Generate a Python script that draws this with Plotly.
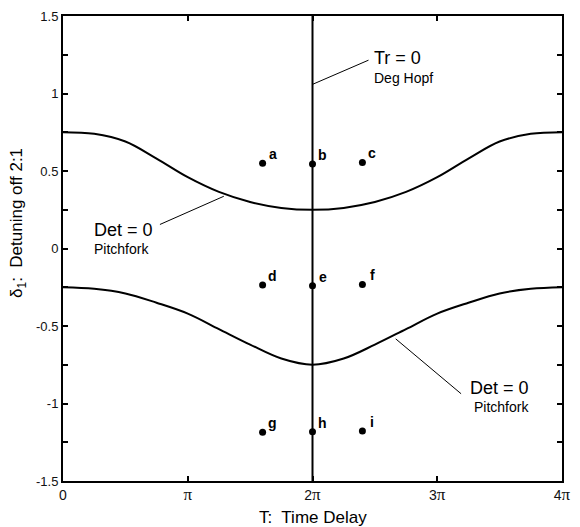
import numpy as np
import plotly.graph_objects as go

PI = np.pi

# Curve samples (x in units of pi)
curve_x = [0, 0.25, 0.5, 0.75, 1.0, 1.25, 1.5, 1.75, 2.0,
           2.25, 2.5, 2.75, 3.0, 3.25, 3.5, 3.75, 4.0]
upper_y = [0.75, 0.74, 0.69, 0.58, 0.46, 0.365, 0.30, 0.262, 0.25,
           0.262, 0.30, 0.365, 0.46, 0.58, 0.69, 0.74, 0.75]
lower_y = [-0.25, -0.26, -0.29, -0.35, -0.42, -0.52, -0.62, -0.71, -0.75,
           -0.71, -0.62, -0.52, -0.42, -0.35, -0.29, -0.26, -0.25]

# Degenerate Hopf line T = 2 pi
hopf_x = [2.0, 2.0]
hopf_y = [-1.5, 1.5]

# Sample points
pt_labels = ["a", "b", "c", "d", "e", "f", "g", "h", "i"]
pt_x = [1.6, 2.0, 2.4, 1.6, 2.0, 2.4, 1.6, 2.0, 2.4]
pt_y = [0.55, 0.545, 0.555, -0.235, -0.24, -0.232, -1.185, -1.183, -1.178]

# Ticks
PI_SPAN = "<span style='font-family:Liberation Serif, Times New Roman, serif;font-size:17px'>π</span>"
xtick_vals = [0, 1, 2, 3, 4]
xtick_text = ["0", PI_SPAN, "2" + PI_SPAN, "3" + PI_SPAN, "4" + PI_SPAN]
ytick_vals = [-1.5, -1, -0.5, 0, 0.5, 1, 1.5]
ytick_text = ["-1.5", "-1", "-0.5", "0", "0.5", "1", "1.5"]

# Leader lines (x in pi units)
leaders = [
    ([2.0, 2.449], [1.059, 1.215]),
    ([0.777, 1.289], [0.155, 0.337]),
    ([2.667, 3.191], [-0.583, -0.937]),
]

# Text labels: (text, x in pi units, y, size)
labels = [
    ("Tr = 0", 2.48, 1.23, 18),
    ("Deg Hopf", 2.48, 1.10, 14),
    ("Det = 0", 0.236, 0.119, 18),
    ("Pitchfork", 0.236, 0.0, 14),
    ("Det = 0", 3.244, -0.903, 18),
    ("Pitchfork", 3.276, -1.025, 14),
]

FONT = "Liberation Sans, Arial, sans-serif"

fig = go.Figure()

fig.add_trace(go.Scatter(x=[v * PI for v in curve_x], y=upper_y, mode="lines",
                         line=dict(color="black", width=2, shape="spline", smoothing=1),
                         showlegend=False, hoverinfo="skip"))
fig.add_trace(go.Scatter(x=[v * PI for v in curve_x], y=lower_y, mode="lines",
                         line=dict(color="black", width=2, shape="spline", smoothing=1),
                         showlegend=False, hoverinfo="skip"))
fig.add_trace(go.Scatter(x=[v * PI for v in hopf_x], y=hopf_y, mode="lines",
                         line=dict(color="black", width=2),
                         showlegend=False, hoverinfo="skip"))
for lx, ly in leaders:
    fig.add_trace(go.Scatter(x=[v * PI for v in lx], y=ly, mode="lines",
                             line=dict(color="black", width=1),
                             showlegend=False, hoverinfo="skip"))
fig.add_trace(go.Scatter(x=[v * PI for v in pt_x], y=pt_y, mode="markers",
                         marker=dict(color="black", size=7),
                         showlegend=False, hoverinfo="skip"))

annotations = []
for t, xx, yy in zip(pt_labels, pt_x, pt_y):
    annotations.append(dict(x=xx * PI, y=yy, text="<b>" + t + "</b>", showarrow=False,
                            xshift=10, yshift=9, font=dict(family=FONT, size=14, color="black")))
for t, xx, yy, s in labels:
    annotations.append(dict(x=xx * PI, y=yy, text=t, showarrow=False, xanchor="left",
                            yanchor="middle", font=dict(family=FONT, size=s, color="black")))
annotations.append(dict(x=0, y=0.555, xref="paper", yref="paper", xshift=-45,
                        text="δ<sub>1</sub>:  Detuning off 2:1", textangle=-90, showarrow=False,
                        xanchor="center", yanchor="middle",
                        font=dict(family=FONT, size=17, color="black")))
annotations.append(dict(x=0.5, y=-0.079, xref="paper", yref="paper",
                        text="T:  Time Delay", showarrow=False,
                        xanchor="center", yanchor="middle",
                        font=dict(family=FONT, size=17, color="black")))

fig.update_layout(
    width=580, height=527,
    margin=dict(l=63, r=9, t=14, b=46),
    plot_bgcolor="white", paper_bgcolor="white",
    annotations=annotations,
    font=dict(family=FONT, color="black"),
    hovermode=False,
)
fig.update_xaxes(range=[0, 4 * PI], tickvals=[v * PI for v in xtick_vals], ticktext=xtick_text,
                 ticks="inside", ticklen=5, tickwidth=2, tickcolor="black",
                 showline=True, linewidth=2, linecolor="black", mirror="allticks",
                 showgrid=False, zeroline=False,
                 tickfont=dict(family=FONT, size=14, color="#111"))
fig.update_yaxes(range=[-1.5, 1.5], tickvals=ytick_vals, ticktext=ytick_text,
                 ticks="inside", ticklen=5, tickwidth=2, tickcolor="black",
                 minor=dict(dtick=0.25, ticks="inside", ticklen=5, tickwidth=2, tickcolor="black", showgrid=False),
                 showline=True, linewidth=2, linecolor="black", mirror="allticks",
                 showgrid=False, zeroline=False,
                 tickfont=dict(family=FONT, size=13, color="#111"))

fig.write_html("out.html", config={"displayModeBar": False},
               post_script="document.body.style.margin='0';document.body.style.overflow='hidden';")
